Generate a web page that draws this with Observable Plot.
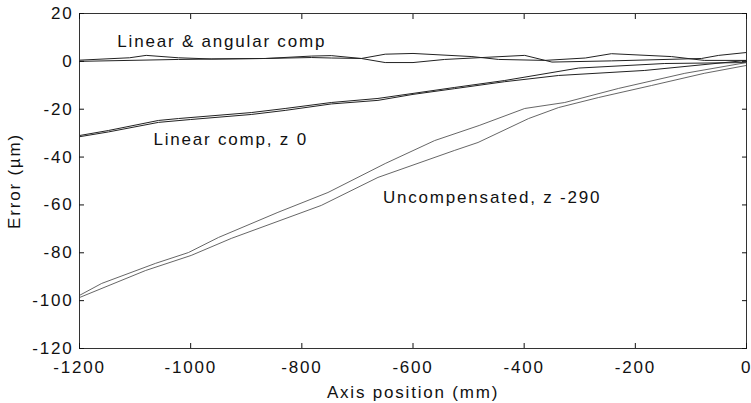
<!DOCTYPE html>
<html>
<head>
<meta charset="utf-8">
<script src="https://cdn.jsdelivr.net/npm/d3@7"></script>
<script src="https://cdn.jsdelivr.net/npm/@observablehq/plot@0.6"></script>
<style>
  html, body { margin: 0; padding: 0; background: #fff; }
  #chart svg { display: block; }
  #chart text { letter-spacing: 1.8px; }
</style>
</head>
<body>
<div id="chart"></div>
<script>
// ---- data ----
const xTicks = [-1200, -1000, -800, -600, -400, -200, 0];
const yTicks = [-120, -100, -80, -60, -40, -20, 0, 20];

const linAngA_x = [-1200, -1110, -1080, -1022, -963, -866, -783, -747, -693, -650, -600, -494, -446, -363, -290, -243, -135, -76, 0];
const linAngA_y = [0.5, 1.5, 2.5, 1.5, 1.0, 1.2, 2.2, 2.4, 1.2, 3.0, 3.3, 2.0, 0.8, 0.4, 1.4, 3.2, 2.0, 0.4, 0.4];

const linAngB_x = [-1200, -1022, -866, -783, -747, -693, -650, -600, -543, -399, -350, -243, -81, -50, 0];
const linAngB_y = [0.0, 0.8, 1.2, 1.6, 1.4, 1.2, -0.5, -0.5, 0.8, 2.5, -0.3, 0.2, 1.2, 2.5, 3.7];

const linA_x = [-1200, -1148, -1058, -1022, -891, -830, -747, -663, -600, -525, -435, -302, -147, 0];
const linA_y = [-31.0, -28.9, -24.7, -23.9, -21.4, -19.7, -17.2, -15.5, -13.4, -10.9, -8.0, -2.8, -0.9, -0.5];

const linB_x = [-1200, -1148, -1058, -1000, -891, -830, -747, -663, -600, -525, -435, -338, -183, 0];
const linB_y = [-31.5, -29.5, -25.5, -24.3, -22.2, -20.5, -17.8, -16.3, -13.8, -11.4, -8.5, -5.9, -3.8, 0.4];

const uncA_x = [-1200, -1160, -1063, -1004, -950, -843, -753, -650, -561, -481, -399, -327, -230, -111, 0];
const uncA_y = [-97.8, -92.8, -84.4, -79.9, -73.6, -63.1, -54.8, -42.7, -33.1, -26.8, -19.7, -17.2, -11.3, -5.0, -0.5];

const uncB_x = [-1200, -1081, -999, -927, -765, -663, -525, -483, -392, -338, -266, -171, -76, 0];
const uncB_y = [-98.7, -87.4, -81.1, -74.0, -60.2, -48.5, -37.2, -33.9, -23.9, -19.3, -15.1, -10.1, -5.0, -1.7];

const labelTexts = ["Linear & angular comp", "Linear comp, z 0", "Uncompensated, z -290"];
const labelX = [-1132, -1067, -654];
const labelY = [5.8, -35.1, -59.4];

// ---- build tables ----
const zip = (xs, ys, s) => xs.map((x, i) => ({x, y: ys[i], s}));
const darkLines = [
  ...zip(linAngA_x, linAngA_y, "la1"),
  ...zip(linAngB_x, linAngB_y, "la2"),
  ...zip(linA_x, linA_y, "l1"),
  ...zip(linB_x, linB_y, "l2")
];
const lightLines = [
  ...zip(uncA_x, uncA_y, "u1"),
  ...zip(uncB_x, uncB_y, "u2")
];
const labels = labelTexts.map((t, i) => ({t, x: labelX[i], y: labelY[i]}));
const fmt = (d) => String(d);

const chart = Plot.plot({
  width: 751,
  height: 403,
  marginLeft: 79,
  marginRight: 5,
  marginTop: 13,
  marginBottom: 55,
  style: {fontFamily: "'Liberation Sans', Arial, sans-serif", fontSize: "17px", color: "#111", background: "#fff"},
  x: {domain: [-1200, 0]},
  y: {domain: [-120, 20]},
  marks: [
    Plot.line(darkLines, {x: "x", y: "y", z: "s", stroke: "#222", strokeWidth: 1}),
    Plot.line(lightLines, {x: "x", y: "y", z: "s", stroke: "#555", strokeWidth: 0.9}),
    Plot.frame({stroke: "#333", strokeWidth: 1}),
    Plot.axisX({ticks: xTicks, tickFormat: fmt, anchor: "bottom", tickSize: -5, tickPadding: 17, label: "Axis position (mm)", labelAnchor: "center", labelOffset: 49, labelArrow: "none", fill: "#111"}),
    Plot.axisX({ticks: xTicks, anchor: "top", tickSize: -5, tickFormat: () => "", label: null}),
    Plot.axisY({ticks: yTicks, tickFormat: fmt, anchor: "left", tickSize: -5, tickPadding: 11, label: "Error (µm)", labelAnchor: "center", labelOffset: 72, labelArrow: "none", fill: "#111"}),
    Plot.axisY({ticks: yTicks, anchor: "right", tickSize: -5, tickFormat: () => "", label: null}),
    Plot.text(labels, {x: "x", y: "y", text: "t", textAnchor: "start", lineAnchor: "bottom", fill: "#111", fontSize: 17})
  ]
});
document.getElementById("chart").appendChild(chart);
</script>
</body>
</html>
